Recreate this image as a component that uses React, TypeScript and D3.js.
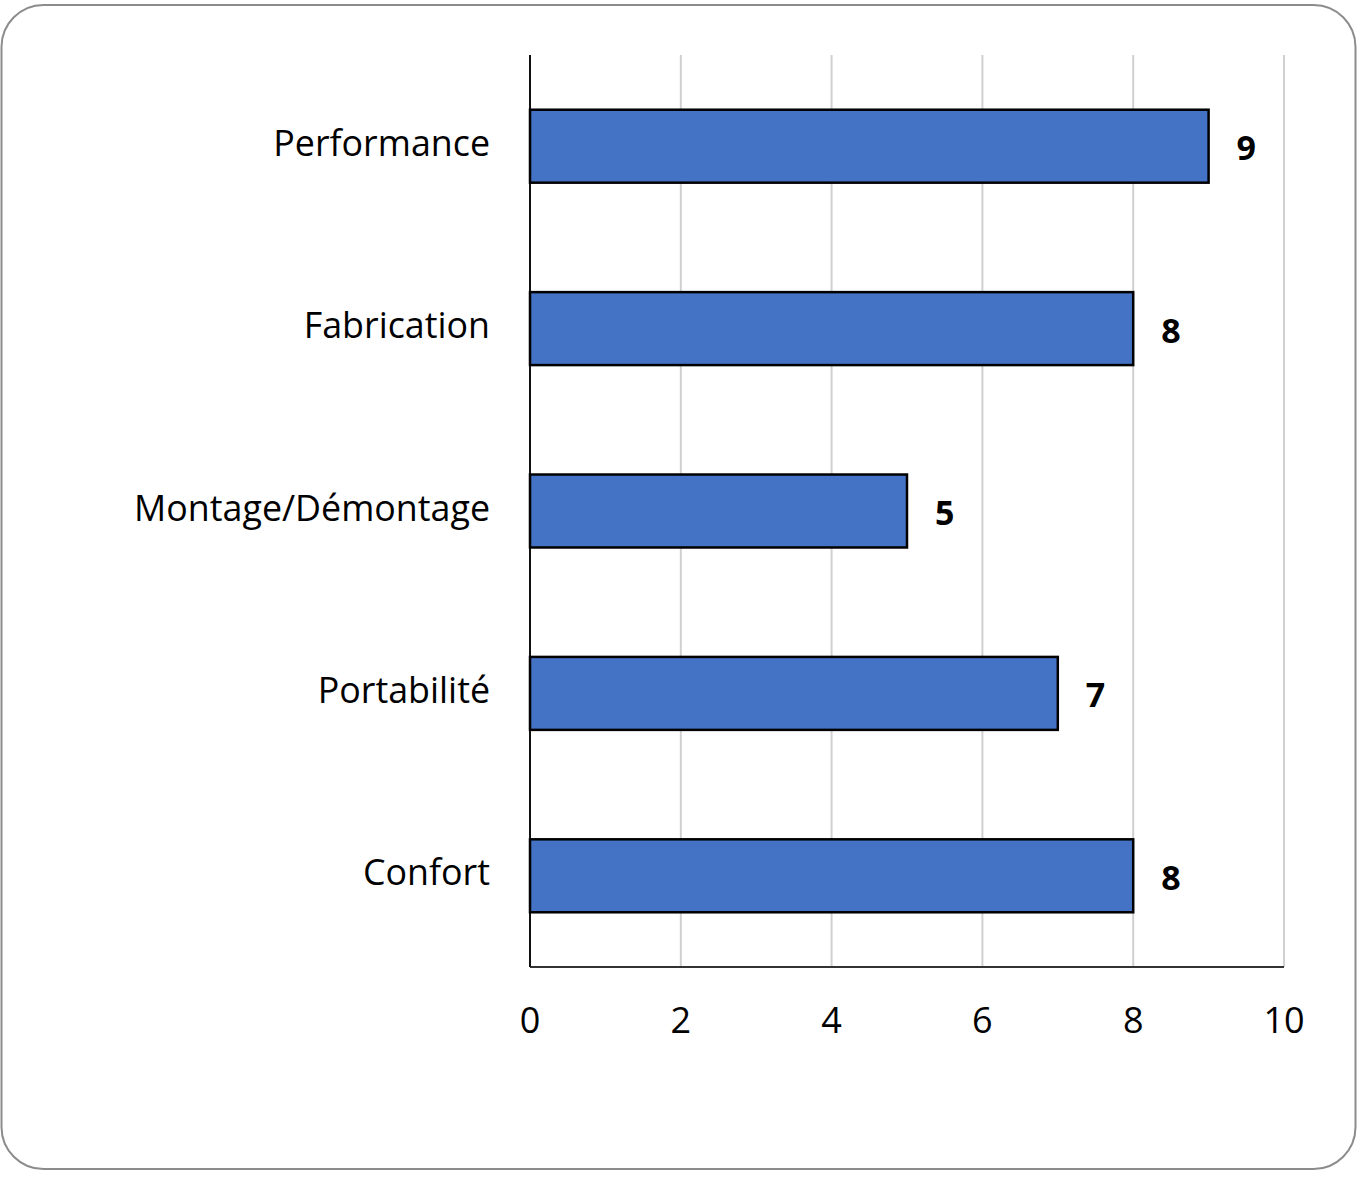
import React from "react";
import * as d3 from "d3";

const categories = ["Performance", "Fabrication", "Montage/Démontage", "Portabilité", "Confort"];
const values = [9, 8, 5, 7, 8];
const xTicks = [0, 2, 4, 6, 8, 10];

export default function App() {
  const W = 1361, H = 1177;
  const left = 530, right = 1284, top = 55, bottom = 967;
  const x = d3.scaleLinear().domain([0, 10]).range([left, right]);
  const y = d3.scaleBand<string>().domain(categories).range([top, bottom]).paddingInner(0.6).paddingOuter(0.3);
  const font = "'Open Sans', Lato, sans-serif";
  return (
    <svg width={W} height={H} style={{ position: "absolute", left: 0, top: 0, fontVariantLigatures: "none" }}>
      <rect x={1.5} y={5} width={1354} height={1164} rx={42} ry={42} fill="#fff" stroke="#8c8c8c" strokeWidth={2} />
      {xTicks.map((t) => (
        <line key={t} x1={x(t)} x2={x(t)} y1={top} y2={bottom} stroke="#d0d0d0" strokeWidth={2} />
      ))}
      <line x1={left} x2={right} y1={bottom} y2={bottom} stroke="#333" strokeWidth={2} />
      <line x1={left} x2={left} y1={top} y2={bottom} stroke="#111" strokeWidth={2} />
      {categories.map((c, i) => (
        <g key={c}>
          <rect x={x(0)} y={y(c)!} width={x(values[i]) - x(0)} height={y.bandwidth()} fill="#4472c4" stroke="#000" strokeWidth={2.5} />
          <text x={left - 40} y={y(c)! + y.bandwidth() / 2 - 3} dy="0.35em" textAnchor="end" fontFamily={font} fontSize={35.8} fill="#000">{c}</text>
          <text x={x(values[i]) + 28} y={y(c)! + y.bandwidth() / 2 + 2} dy="0.35em" textAnchor="start" fontFamily={font} fontSize={34} fontWeight="bold" fill="#000">{values[i]}</text>
        </g>
      ))}
      {xTicks.map((t) => (
        <text key={t} x={x(t)} y={1033} textAnchor="middle" fontFamily={font} fontSize={36} fill="#000">{t}</text>
      ))}
    </svg>
  );
}
